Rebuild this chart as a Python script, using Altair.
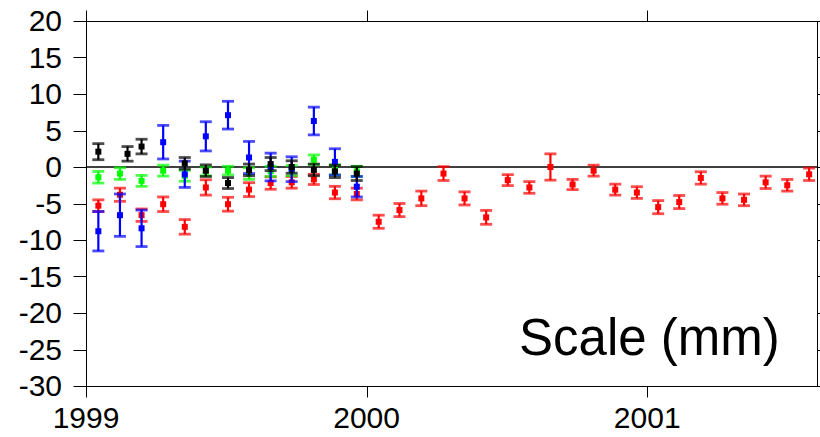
import altair as alt
import pandas as pd

# ---- data (decimal years, values in mm, 1-sigma errors) ----
red_t = [1999.044, 1999.121, 1999.198, 1999.275, 1999.352, 1999.427, 1999.506, 1999.581,
         1999.658, 1999.733, 1999.812, 1999.887, 1999.965, 2000.043, 2000.117, 2000.195,
         2000.274, 2000.349, 2000.426, 2000.503, 2000.580, 2000.655, 2000.734, 2000.809,
         2000.886, 2000.963, 2001.039, 2001.114, 2001.191, 2001.268, 2001.345, 2001.422,
         2001.499, 2001.577]
red_v = [-5.3, -3.8, -6.6, -5.1, -8.2, -2.8, -5.1, -3.1, -2.2, -2.1, -1.7, -3.5, -3.7,
         -7.5, -5.9, -4.3, -0.9, -4.3, -6.9, -1.8, -2.8, 0.0, -2.4, -0.5, -3.1, -3.5,
         -5.5, -4.8, -1.5, -4.3, -4.5, -2.1, -2.5, -1.0]
red_e = [0.8, 0.9, 0.85, 1.0, 1.0, 1.05, 0.95, 0.95, 0.85, 0.8, 0.7, 0.85, 0.8, 0.9,
         0.9, 1.0, 0.95, 0.9, 0.95, 0.75, 0.8, 1.8, 0.7, 0.75, 0.75, 0.8, 0.9, 0.9,
         0.85, 0.8, 0.8, 0.85, 0.8, 0.85]

green_t = [1999.044, 1999.121, 1999.198, 1999.275, 1999.352, 1999.427, 1999.506,
           1999.581, 1999.658, 1999.733, 1999.812, 1999.887, 1999.965]
green_v = [-1.4, -0.9, -1.9, -0.5, -1.2, -0.6, -0.5, -0.9, -0.6, -0.5, 1.0, -0.4, -0.6]
green_e = [0.8, 0.8, 0.75, 0.75, 0.75, 0.6, 0.6, 0.8, 0.7, 0.7, 0.65, 0.7, 0.7]

blue_t = [1999.044, 1999.121, 1999.198, 1999.275, 1999.352, 1999.427, 1999.506,
          1999.581, 1999.658, 1999.733, 1999.812, 1999.887, 1999.965]
blue_v = [-8.8, -6.6, -8.4, 3.4, -1.0, 4.2, 7.1, 1.3, 0.0, -0.3, 6.3, 0.7, -2.7]
blue_e = [2.7, 2.9, 2.5, 2.3, 1.8, 2.0, 1.9, 2.2, 1.9, 1.7, 1.9, 1.8, 1.4]

black_t = [1999.044, 1999.148, 1999.198, 1999.352, 1999.427, 1999.506, 1999.581,
           1999.658, 1999.733, 1999.812, 1999.887, 1999.965]
black_v = [2.1, 1.8, 2.8, 0.5, -0.5, -2.2, -0.4, 0.4, 0.0, -0.4, -0.6, -0.9]
black_e = [1.1, 1.0, 1.0, 0.8, 0.8, 0.75, 0.8, 0.9, 0.85, 0.8, 0.85, 0.95]

x_ticks = [1999, 2000, 2001]
x_labels = ["1999", "2000", "2001"]
y_ticks = [-30, -25, -20, -15, -10, -5, 0, 5, 10, 15, 20]
y_labels = ["-30", "-25", "-20", "-15", "-10", "-5", "0", "5", "10", "15", "20"]

series = [
    ("red", red_t, red_v, red_e, "#ff0000"),
    ("green", green_t, green_v, green_e, "#00ff00"),
    ("blue", blue_t, blue_v, blue_e, "#0000ff"),
    ("black", black_t, black_v, black_e, "#000000"),
]

FONT = "Liberation Sans"
W, H = 731, 365
xs = alt.Scale(domain=[1999, 2001.605], nice=False, zero=False)
ys = alt.Scale(domain=[-30, 20], nice=False, zero=False)

xax = alt.Axis(values=x_ticks, orient="bottom", grid=False, tickSize=11,
               tickColor="#000", domainColor="#000", labels=False, title=None)
yax = alt.Axis(values=y_ticks, orient="left", grid=False, tickSize=13, tickColor="#000",
               domainColor="#000", labels=False, title=None)

# zero line (carries left axis)
zero = alt.Chart(pd.DataFrame({"z": [0]})).mark_rule(color="#000", strokeWidth=1.5).encode(
    y=alt.Y("z:Q", scale=ys, axis=yax),
    x=alt.value(0), x2=alt.value(W),
)

# bottom axis carrier
bottom_axis = alt.Chart(pd.DataFrame({"t": x_ticks})).mark_point(opacity=0).encode(
    x=alt.X("t:Q", scale=xs, axis=xax),
    y=alt.value(-50),
)
# top and right frame with ticks
top_axis = alt.Chart(pd.DataFrame({"t": x_ticks})).mark_point(opacity=0).encode(
    x=alt.X("t:Q", scale=xs, axis=alt.Axis(values=x_ticks, orient="top", labels=False,
                                           grid=False, tickSize=11, tickColor="#000",
                                           domainColor="#000", title=None)),
    y=alt.value(-50),
)
right_axis = alt.Chart(pd.DataFrame({"v": y_ticks})).mark_point(opacity=0).encode(
    y=alt.Y("v:Q", scale=ys, axis=alt.Axis(values=y_ticks, orient="right", labels=False,
                                           grid=False, tickSize=11, tickColor="#000",
                                           domainColor="#000", title=None)),
    x=alt.value(-50),
)

# tick labels as text marks positioned through the scales
ylab = alt.Chart(pd.DataFrame({"v": y_ticks, "s": y_labels})).mark_text(
    font=FONT, fontSize=30, align="right", baseline="middle", color="#000", dy=1
).encode(y=alt.Y("v:Q", scale=ys, axis=None), x=alt.value(-24), text="s:N")
xlab = alt.Chart(pd.DataFrame({"t": x_ticks, "s": x_labels})).mark_text(
    font=FONT, fontSize=30, align="center", baseline="alphabetic", color="#000"
).encode(x=alt.X("t:Q", scale=xs, axis=None), y=alt.value(H + 42), text="s:N")

layers = [zero, bottom_axis, top_axis, right_axis]
for name, t, v, e, col in series:
    df = pd.DataFrame({"t": t, "v": v, "e": e})
    df["lo"] = df["v"] - df["e"]
    df["hi"] = df["v"] + df["e"]
    base = alt.Chart(df)
    X = alt.X("t:Q", scale=xs, axis=None)
    bar = base.mark_rule(color=col, strokeWidth=2.2).encode(
        x=X, y=alt.Y("lo:Q", scale=ys, axis=None), y2="hi:Q")
    cap_lo = base.mark_tick(color=col, orient="horizontal", size=12, thickness=2.8).encode(
        x=X, y=alt.Y("lo:Q", scale=ys, axis=None))
    cap_hi = base.mark_tick(color=col, orient="horizontal", size=12, thickness=2.8).encode(
        x=X, y=alt.Y("hi:Q", scale=ys, axis=None))
    pt = base.mark_square(color=col, filled=True, size=36, opacity=1).encode(
        x=X, y=alt.Y("v:Q", scale=ys, axis=None))
    layers += [bar, cap_lo, cap_hi, pt]

label = alt.Chart(pd.DataFrame({"s": ["Scale (mm)"]})).mark_text(
    font=FONT, fontSize=51, align="left", baseline="alphabetic", color="#000"
).encode(text="s:N", x=alt.value(433), y=alt.value(334))

chart = (
    alt.layer(*layers, ylab, xlab, label)
    .resolve_scale(x="shared", y="shared")
    .properties(
        width=W, height=H,
        background="white",
        autosize=alt.AutoSizeParams(type="none"),
        padding={"left": 86, "top": 21, "right": 3, "bottom": 51},
    )
    .configure_view(stroke="#000", strokeWidth=1)
)

chart.save("out.html", embed_options={"renderer": "svg", "actions": False})
